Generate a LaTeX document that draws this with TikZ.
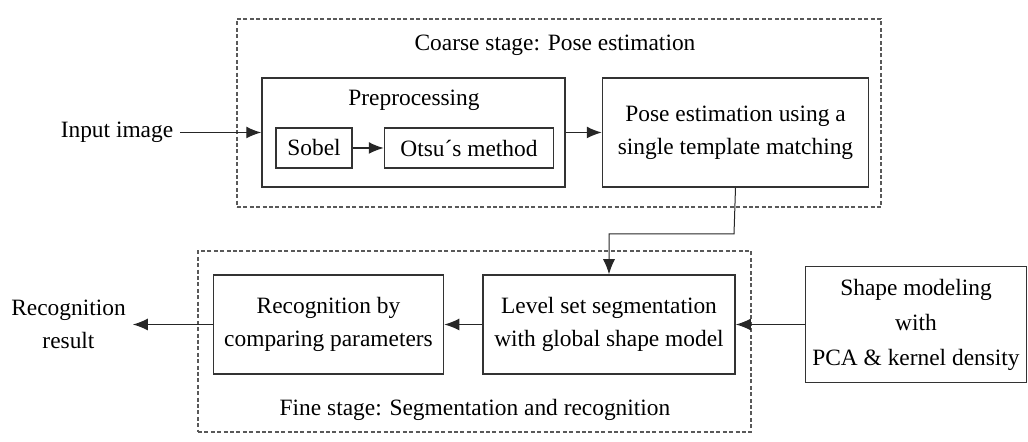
\documentclass[tikz,border=0pt]{standalone}
\usepackage{fontspec}
\setmainfont{Liberation Serif}
\usetikzlibrary{positioning, arrows.meta}
\tikzstyle{block} = [draw=black!80, line width=0.75pt, align=center, inner sep=2pt]
\tikzstyle{stage} = [draw=black!65, dash pattern=on 2pt off 1.2pt, line width=0.6pt]
\tikzstyle{txt} = [align=center]
\tikzstyle{arrow} = [->, line width=0.7pt, draw=black!85]

\begin{document}
\begin{tikzpicture}[
  x=0.5pt, y=-0.5pt, % one unit is one pixel of the reference
  >={Latex[length=7.5pt, width=6pt]},
  every node/.style={font=\fontsize{11.7}{16.5}\selectfont},
]
  \useasboundingbox (0,0) rectangle (1028,442);

  % coarse stage
  \node[stage, minimum width=322pt, minimum height=94pt] (coarse) at (559,113) {};
  \node[txt] (coarsetitle) at (555,45) {Coarse stage: Pose estimation};
  \node[block, minimum width=151.5pt, minimum height=54.5pt] (pre) at (413.5,132.5) {};
  \node[txt] (pretitle) at (414,100) {Preprocessing};
  \node[block, minimum width=38pt, minimum height=20pt] (sob) at (314,148) {Sobel};
  \node[block, minimum width=84.5pt, minimum height=20pt, right=15.5pt of sob] (otsu) {Otsu´s method};
  \node[block, minimum width=133pt, minimum height=54.5pt, right=18pt of pre] (pose) {Pose estimation using a\\single template matching};
  \node[txt] (input) at (117,132.5) {Input image};

  % fine stage
  \node[stage, minimum width=276.5pt, minimum height=90.5pt] (fine) at (474.5,341.5) {};
  \node[txt] (finetitle) at (475,410) {Fine stage: Segmentation and recognition};
  \node[block, minimum width=126pt, minimum height=49.5pt] (lev) at (609,324.5) {Level set segmentation\\with global shape model};
  \node[block, minimum width=115pt, minimum height=49.5pt, left=19pt of lev] (rec) {Recognition by\\comparing parameters};
  \node[block, minimum width=110.5pt, minimum height=58pt, right=34.5pt of lev] (shape) {Shape modeling\\[1pt]with\\[1pt]PCA \& kernel density};
  \node[txt, left=40pt of rec] (res) {Recognition\\result};

  \coordinate (turn) at (734,234);

  \draw[arrow] (input) -- (pre);
  \draw[arrow] (sob) -- (otsu);
  \draw[arrow] (pre) -- (pose);
  \draw[arrow, line width=0.5pt] (pose.south) -- (turn) -| (lev.north);
  \draw[arrow] (shape) -- (lev);
  \draw[arrow] (lev) -- (rec);
  \draw[arrow] (rec) -- (res);
\end{tikzpicture}
\end{document}
